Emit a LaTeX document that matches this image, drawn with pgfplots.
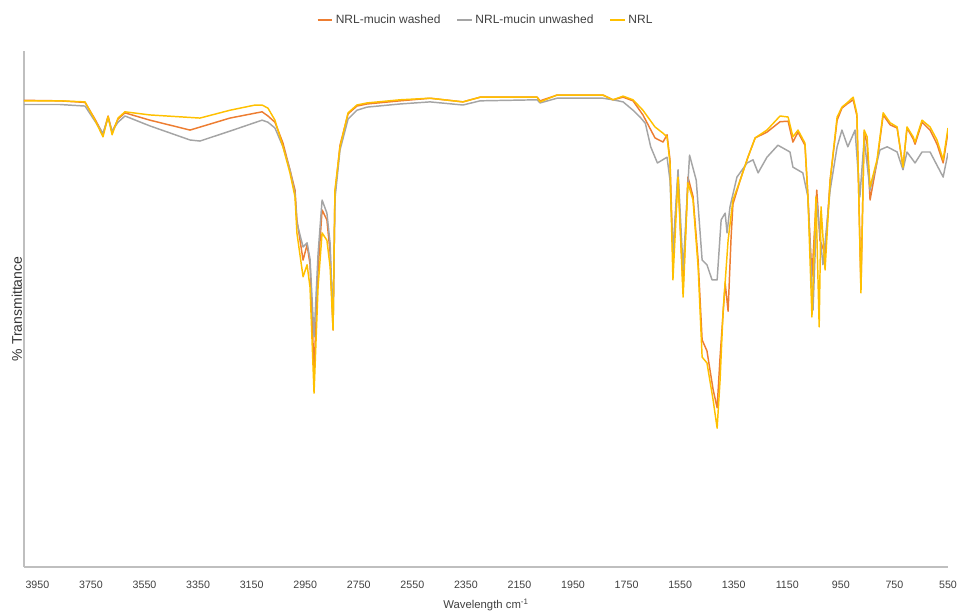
\documentclass[border=0pt]{standalone}
\usepackage{fontspec}
\setmainfont{Liberation Sans}
\usepackage{pgfplots}
\pgfplotsset{compat=1.18}

\definecolor{cwashed}{HTML}{ED7D31}
\definecolor{cunwashed}{HTML}{A5A5A5}
\definecolor{cnrl}{HTML}{FFC000}

\begin{document}
\begin{tikzpicture}
  \begin{axis}[
      scale only axis,
      width=693pt, height=387pt,
      x dir=reverse,
      xmin=550, xmax=4000,
      ymin=0, ymax=98.85,
      axis x line*=bottom,
      axis y line*=left,
      axis line style={draw=black!25, line width=0.9pt},
      xtick={550,750,...,3950},
      ytick=\empty,
      major tick length=0pt,
      xticklabel style={font=\fontsize{8}{9}\selectfont, text=black!75, yshift=-7pt},
      /pgf/number format/assume math mode=true,
      /pgf/number format/1000 sep={},
      xlabel={Wavelength cm\textsuperscript{-1}},
      xlabel style={font=\fontsize{8.5}{10}\selectfont, text=black!75, yshift=-1pt},
      ylabel={\% Transmittance},
      ylabel style={font=\fontsize{10.5}{12}\selectfont, text=black!80, yshift=-2pt},
      legend columns=3,
      legend style={draw=none, at={(0.5,1)}, anchor=south, yshift=15pt,
        font=\fontsize{9}{10}\selectfont, text=black!75,
        /tikz/every even column/.append style={column sep=10pt}},
      legend image code/.code={\draw[#1, line width=1.2pt] (0pt,0pt) -- (11pt,0pt);},
      every axis plot/.append style={line width=1.1pt, line join=round},
    ]
    % NRL-mucin washed
    \addplot[cwashed] coordinates {
      (4000,89.4) (3866,89.3) (3772,89.0) (3735,85.8) (3705,82.9) (3686,86.4)
      (3671,83.3) (3649,85.8) (3623,87.0) (3530,85.6) (3380,83.7) (3231,86.0)
      (3111,87.2) (3089,86.4) (3063,85.2) (3033,81.2) (3007,76.1) (2988,72.2)
      (2981,66.5) (2958,58.8) (2943,61.7) (2932,58.0) (2917,37.7) (2902,56.9)
      (2887,68.4) (2869,66.5) (2857,60.2) (2846,45.4) (2839,71.5) (2820,80.8)
      (2790,86.8) (2757,88.3) (2719,88.7) (2596,89.3) (2484,89.8) (2361,89.1)
      (2297,90.0) (2084,90.0) (2073,89.3) (2010,90.4) (1838,90.4) (1801,89.5)
      (1763,90.0) (1726,89.3) (1689,86.6) (1644,82.2) (1614,81.4) (1599,82.8)
      (1588,78.0) (1577,59.4) (1558,75.0) (1539,53.0) (1521,74.7) (1502,71.0)
      (1483,58.8) (1468,43.5) (1450,41.4) (1427,34.0) (1412,30.5) (1401,40.2)
      (1382,54.4) (1371,49.0) (1360,63.0) (1353,69.5) (1326,74.1) (1297,78.5)
      (1270,82.2) (1226,83.3) (1177,85.3) (1147,85.4) (1129,81.4) (1110,83.3)
      (1084,80.8) (1073,71.0) (1058,55.6) (1040,72.2) (1028,62.6) (1009,60.0)
      (990,74.1) (964,85.6) (946,87.9) (927,88.7) (904,89.5) (890,86.4)
      (875,53.5) (863,83.3) (852,81.0) (841,70.3) (815,77.6) (792,86.6)
      (766,84.7) (740,84.1) (718,76.6) (703,84.1) (680,82.0) (673,81.0)
      (647,85.2) (617,83.7) (591,81.0) (568,77.4) (550,83.3)
    };
    \addlegendentry{NRL-mucin washed}
    % NRL-mucin unwashed
    \addplot[cunwashed] coordinates {
      (4000,88.6) (3866,88.6) (3772,88.3) (3735,85.4) (3705,83.1) (3686,86.0)
      (3671,83.5) (3649,85.2) (3623,86.4) (3530,84.5) (3380,81.8) (3343,81.6)
      (3231,83.5) (3111,85.6) (3089,85.2) (3063,84.1) (3033,80.5) (3007,76.1)
      (2988,71.5) (2981,66.0) (2958,61.3) (2943,62.1) (2932,59.0) (2917,44.1)
      (2902,60.0) (2887,70.3) (2869,67.8) (2857,62.0) (2846,46.5) (2839,70.5)
      (2820,79.9) (2790,85.8) (2757,87.5) (2719,88.1) (2596,88.7) (2484,89.1)
      (2361,88.5) (2297,89.3) (2084,89.5) (2073,88.9) (2010,89.8) (1838,89.8)
      (1801,89.5) (1763,89.1) (1726,87.5) (1700,86.2) (1680,85.0) (1660,80.5)
      (1635,77.4) (1599,78.5) (1588,74.1) (1577,60.2) (1558,76.1) (1539,57.0)
      (1515,78.9) (1490,74.1) (1468,58.8) (1450,57.9) (1431,55.0) (1412,55.0)
      (1397,66.5) (1382,67.8) (1375,64.0) (1364,69.0) (1338,74.7) (1300,77.4)
      (1278,78.0) (1259,75.5) (1226,78.5) (1185,80.8) (1140,79.5) (1129,76.6)
      (1092,75.5) (1073,70.9) (1054,49.2) (1039,69.7) (1017,57.9) (990,72.2)
      (964,80.5) (946,83.7) (924,80.5) (897,83.7) (879,70.9) (863,82.0)
      (841,72.2) (804,79.9) (777,80.5) (740,79.5) (718,76.1) (703,79.5)
      (673,77.4) (647,79.5) (617,79.5) (568,74.7) (550,79.3)
    };
    \addlegendentry{NRL-mucin unwashed}
    % NRL
    \addplot[cnrl] coordinates {
      (4000,89.3) (3866,89.3) (3772,89.1) (3735,85.6) (3705,82.4) (3686,86.3)
      (3671,82.8) (3649,86.0) (3623,87.2) (3530,86.6) (3343,86.0) (3231,87.5)
      (3137,88.5) (3111,88.5) (3089,87.9) (3063,85.6) (3033,80.5) (3007,75.5)
      (2988,70.9) (2981,64.0) (2958,55.6) (2943,57.9) (2932,53.6) (2917,33.3)
      (2902,53.6) (2887,64.0) (2869,62.6) (2857,57.5) (2846,45.4) (2839,72.2)
      (2820,80.5) (2790,87.0) (2757,88.5) (2719,88.9) (2596,89.5) (2484,89.8)
      (2361,89.1) (2297,90.0) (2084,90.0) (2073,89.1) (2010,90.4) (1838,90.4)
      (1801,89.5) (1763,90.2) (1726,89.5) (1689,87.5) (1644,84.3) (1614,83.1)
      (1599,82.4) (1588,77.4) (1577,55.0) (1558,74.7) (1539,51.7) (1521,73.6)
      (1502,70.3) (1483,57.5) (1468,40.2) (1450,39.1) (1427,32.0) (1412,26.6)
      (1401,35.8) (1390,48.7) (1371,62.6) (1353,70.3) (1326,74.1) (1297,78.5)
      (1270,82.2) (1226,83.7) (1177,86.4) (1147,86.2) (1129,82.4) (1110,83.7)
      (1084,81.2) (1073,70.9) (1058,47.9) (1043,70.9) (1031,46.0) (1024,69.0)
      (1009,56.9) (990,74.1) (964,86.2) (946,88.1) (927,88.9) (904,90.0)
      (890,86.8) (875,52.5) (863,83.7) (852,82.4) (841,72.8) (815,78.0)
      (792,87.0) (766,85.1) (740,84.3) (718,76.6) (703,84.3) (680,82.4)
      (673,81.4) (647,85.6) (617,84.3) (591,81.8) (568,78.0) (550,84.1)
    };
    \addlegendentry{NRL}
  \end{axis}
  \pgfresetboundingbox
  \path (-18pt,-33.75pt) rectangle (699.75pt,425.25pt);
\end{tikzpicture}
\end{document}
